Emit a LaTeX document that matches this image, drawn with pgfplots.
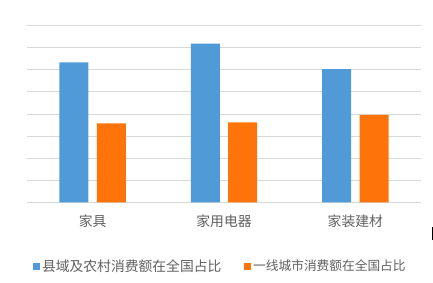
\documentclass[border=0pt]{standalone}
\usepackage{pgfplots}
\pgfplotsset{compat=1.18}
\usepackage{fontspec}
\setmainfont{Noto Sans CJK SC}
\definecolor{barblue}{RGB}{80,155,215}
\definecolor{barorange}{RGB}{255,116,10}
\definecolor{gridgray}{RGB}{217,217,217}
\definecolor{txtgray}{RGB}{95,95,95}
\begin{document}
\begin{tikzpicture}
\useasboundingbox (0pt,0pt) rectangle (433pt,282pt);
\begin{axis}[
  at={(27pt,79.7pt)}, anchor=south west,
  scale only axis, width=394pt, height=176.6pt,
  xmin=-0.5, xmax=2.5, ymin=0, ymax=8,
  ytick={0,1,...,8}, yticklabels={},
  xtick={0,1,2}, xticklabels={家具,家用电器,家装建材},
  major tick length=0pt,
  ymajorgrids, major grid style={gridgray, line width=1pt},
  axis line style={draw=none},
  xticklabel style={font=\fontsize{13.8}{16}\selectfont, text=txtgray, inner sep=0pt, anchor=base, yshift=-23.7pt},
  legend columns=2,
  legend style={draw=none, fill=none, at={(0.0145,-0.3607)}, anchor=west,
    inner sep=0pt, outer sep=0pt,
    nodes={inner sep=0pt, text=txtgray},
    /tikz/every even column/.append style={column sep=22.5pt}},
  legend image code/.code={\fill[#1] (0pt,-3.5pt) rectangle (7pt,3.5pt); \path (9.3pt,0pt);},
]
\addplot[ybar, bar width=29pt, bar shift=-18.7pt, fill=barblue, draw=none]
  coordinates {(0,6.34) (1,7.19) (2,6.03)};
\addlegendentry{\fontsize{13.8}{16}\selectfont 县域及农村消费额在全国占比}
\addplot[ybar, bar width=29pt, bar shift=18.7pt, fill=barorange, draw=none]
  coordinates {(0,3.58) (1,3.62) (2,3.96)};
\addlegendentry{\fontsize{12.7}{16}\selectfont 一线城市消费额在全国占比}
\end{axis}
\draw[black, line width=1pt] (432pt,42pt) -- (432pt,55pt);
\end{tikzpicture}
\end{document}
